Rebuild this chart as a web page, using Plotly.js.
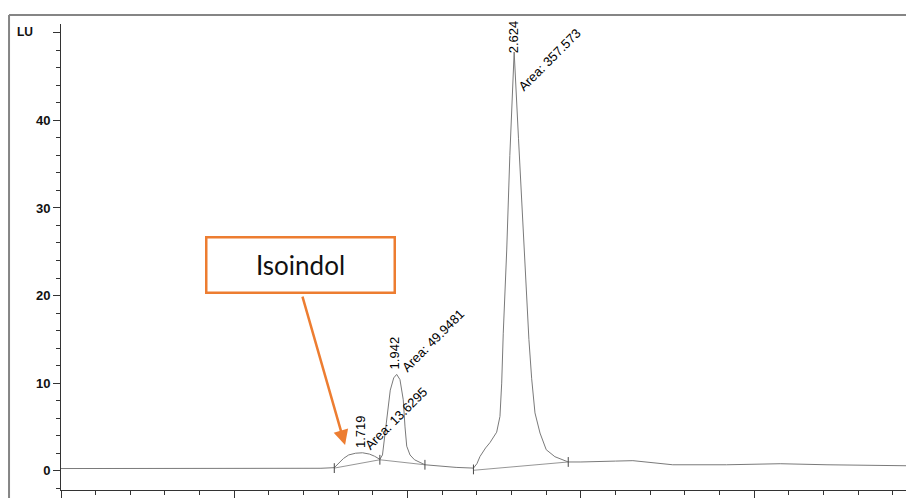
<!DOCTYPE html>
<html>
<head>
<meta charset="utf-8">
<script src="https://cdn.plot.ly/plotly-3.0.1.min.js"></script>
<style>html,body{margin:0;padding:0;background:#fff;}#chart{width:906px;height:498px;}</style>
</head>
<body>
<div id="chart"></div>
<script>
// Chromatogram signal (time in min, signal in LU)
const timeMin = [0, 0.5, 1.0, 1.3, 1.5, 1.577, 1.60, 1.63, 1.66, 1.70, 1.74, 1.78, 1.81, 1.84,
  1.855, 1.865, 1.88, 1.90, 1.92, 1.937, 1.956, 1.975, 1.985, 1.995, 2.014, 2.04, 2.10, 2.19, 2.28, 2.38,
  2.40, 2.418, 2.45, 2.475, 2.50, 2.514, 2.533, 2.543, 2.552, 2.572, 2.59, 2.615, 2.64, 2.672, 2.687,
  2.70, 2.716, 2.735, 2.764, 2.80, 2.85, 2.88, 2.927, 3.0, 3.07, 3.2, 3.30, 3.42, 3.53, 3.84, 4.15, 4.42, 4.876];
const signalLU = [0.25, 0.25, 0.25, 0.27, 0.28, 0.35, 0.8, 1.4, 1.8, 2.0, 2.05, 1.9, 1.65, 1.3,
  1.8, 3.5, 6.2, 9.2, 10.6, 11.0, 10.4, 8.1, 5.0, 2.8, 1.8, 1.25, 0.68, 0.49, 0.38, 0.3,
  0.8, 1.63, 2.6, 3.2, 3.9, 4.4, 6.2, 10, 15.7, 25.2, 36, 47.8, 37.9, 25.2, 19.5,
  15, 10.5, 6.6, 4.3, 2.4, 1.6, 1.37, 1.0, 1.0, 1.06, 1.1, 1.15, 0.9, 0.68, 0.68, 0.8, 0.68, 0.57];

// Integration baselines (start/end time and signal)
const baseStartT = [1.577, 1.84, 2.38];
const baseStartS = [0.3, 1.25, 0.05];
const baseEndT = [1.84, 2.10, 2.927];
const baseEndS = [1.25, 0.68, 1.0];

// Peak marks
const markT = [1.577, 1.84, 2.10, 2.38, 2.927];
const markS = [0.3, 1.25, 0.68, 0.15, 1.0];

// Peak labels
const peakRT = ['1.719', '1.942', '2.624'];
const peakArea = ['13.6295', '49.9481', '357.573'];
const yTickVals = [0, 10, 20, 30, 40, 50];
const yTickText = ['0', '10', '20', '30', '40', ''];

const traces = [{
  x: timeMin, y: signalLU, type: 'scatter', mode: 'lines',
  line: {color: '#7a7a7a', width: 1}, hoverinfo: 'skip'
}];
for (let i = 0; i < baseStartT.length; i++) {
  traces.push({
    x: [baseStartT[i], baseEndT[i]], y: [baseStartS[i], baseEndS[i]],
    type: 'scatter', mode: 'lines', line: {color: '#8a8a8a', width: 0.9}, hoverinfo: 'skip'
  });
}
traces.push({
  x: markT, y: markS, type: 'scatter', mode: 'markers',
  marker: {symbol: 'line-ns-open', size: 7, color: '#444', line: {color: '#444', width: 1}}, hoverinfo: 'skip'
});

const labelFont = {family: 'Liberation Sans, Arial, sans-serif', size: 13, color: '#000'};
const rtPos = [[1.725, 4.53], [1.927, 13.5], [2.608, 49.6]];
const areaPos = [[1.933, 6.0], [2.147, 14.9], [2.822, 46.9]];
const annotations = [];
for (let i = 0; i < peakRT.length; i++) {
  annotations.push({x: rtPos[i][0], y: rtPos[i][1], xref: 'x', yref: 'y', text: peakRT[i],
    xanchor: 'center', yanchor: 'middle', textangle: -90, showarrow: false, font: labelFont});
  annotations.push({x: areaPos[i][0], y: areaPos[i][1], xref: 'x', yref: 'y', text: 'Area: ' + peakArea[i],
    xanchor: 'center', yanchor: 'middle', textangle: -45, showarrow: false, font: labelFont});
}
annotations.push({x: -0.0426, y: 0.983, xref: 'paper', yref: 'paper', text: 'LU', showarrow: false,
  xanchor: 'center', yanchor: 'middle',
  font: {family: 'Liberation Sans, Arial, sans-serif', size: 12, color: '#111', weight: 'bold'}});
annotations.push({x: 0.284, y: 0.4818, xref: 'paper', yref: 'paper', text: 'Isoindol', showarrow: false,
  xanchor: 'center', yanchor: 'middle',
  font: {family: 'Lato, sans-serif', size: 26, color: '#111'},
  bordercolor: '#ED7D31', borderwidth: 2.5, borderpad: 0, bgcolor: '#ffffff', width: 186, height: 53});
annotations.push({x: 1.639, y: 2.93, xref: 'x', yref: 'y', text: '', showarrow: true,
  ax: -43, ay: -150, arrowhead: 2, arrowsize: 1.2, arrowwidth: 2.5, arrowcolor: '#ED7D31', standoff: 0});

const shapes = [
  {type: 'line', xref: 'paper', yref: 'paper', x0: -0.0615, x1: 1.01, y0: 1.0193, y1: 1.0193,
    line: {color: '#858585', width: 2}},
  {type: 'line', xref: 'paper', yref: 'paper', x0: -0.0615, x1: -0.0615, y0: 1.0193, y1: -0.05,
    line: {color: '#858585', width: 2}}
];

const layout = {
  width: 906, height: 498,
  margin: {l: 61, r: 0, t: 24, b: 8, pad: 0},
  paper_bgcolor: '#ffffff', plot_bgcolor: '#ffffff',
  showlegend: false,
  xaxis: {
    range: [0, 4.876], showgrid: false, zeroline: false, showline: true, linecolor: '#333', linewidth: 1,
    ticks: 'outside', ticklen: 7, tickwidth: 1, tickcolor: '#333', tick0: 0, dtick: 1, showticklabels: false,
    minor: {dtick: 0.2, ticks: 'outside', ticklen: 4, tickwidth: 1, tickcolor: '#333'}
  },
  yaxis: {
    range: [-2.2, 51], showgrid: false, zeroline: false, showline: true, linecolor: '#333', linewidth: 1,
    ticks: 'outside', ticklen: 7, tickwidth: 1, tickcolor: '#333',
    tickmode: 'array', tickvals: yTickVals, ticktext: yTickText,
    tickfont: {family: 'Liberation Sans, Arial, sans-serif', size: 13, color: '#111', weight: 'bold'},
    minor: {tick0: 0, dtick: 2, ticks: 'outside', ticklen: 4, tickwidth: 1, tickcolor: '#333'}
  },
  annotations: annotations,
  shapes: shapes
};

Plotly.newPlot('chart', traces, layout, {staticPlot: true, displayModeBar: false});
</script>
</body>
</html>
